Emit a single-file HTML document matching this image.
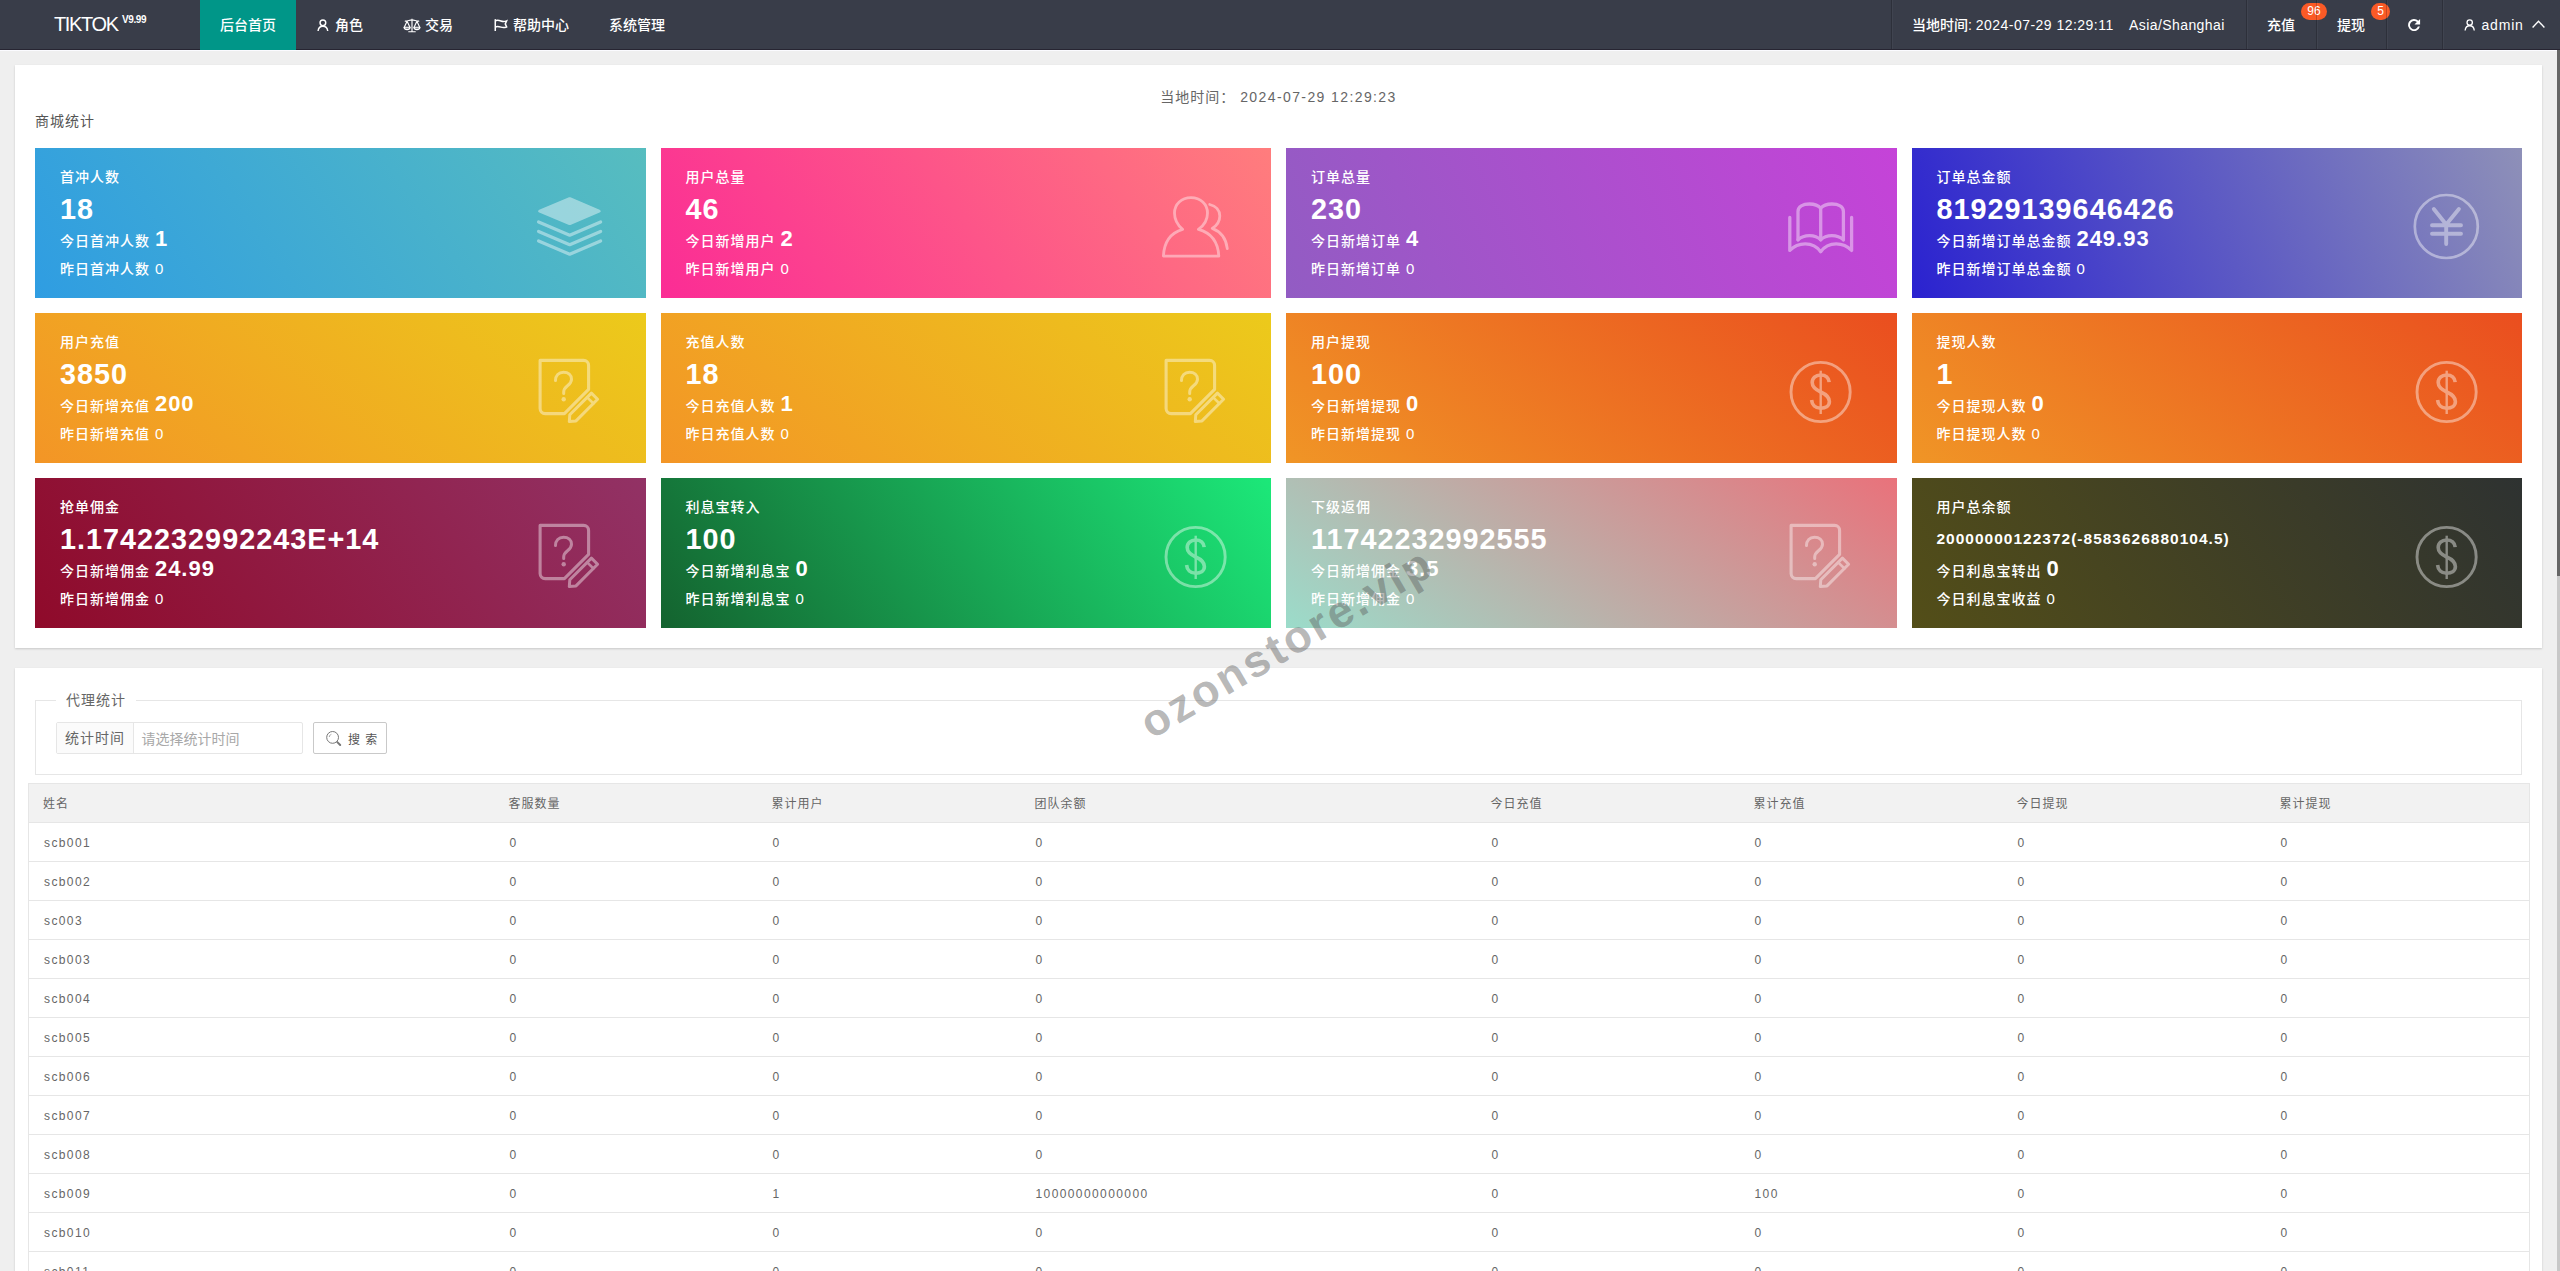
<!DOCTYPE html>
<html lang="zh-CN">
<head>
<meta charset="utf-8">
<title>TIKTOK 后台管理</title>
<style>
*{box-sizing:border-box;margin:0;padding:0}
html,body{width:2560px;height:1271px;overflow:hidden}
body{position:relative;background:#efefef;color:#333;font-size:14px;letter-spacing:1px;
 font-family:"Liberation Sans","Noto Sans CJK SC",sans-serif;}
svg{display:block}
/* ---------- header ---------- */
#hd{position:absolute;left:0;top:0;width:2560px;height:50px;background:#393d49;color:#fff;letter-spacing:0;border-bottom:1px solid #272532;box-shadow:0 1px 0 #fbfbff}
#hd .logo{position:absolute;left:54px;top:0;height:50px;line-height:48px;font-size:20px;font-weight:300;white-space:nowrap;letter-spacing:-1.35px}
#hd .logo sup{position:absolute;left:68px;top:-4px;font-size:10px;font-weight:700;letter-spacing:-.4px}
#hd .nav{position:absolute;top:0;height:50px;line-height:50px;font-size:14px;white-space:nowrap;font-weight:500}
#hd .nav.on{background:#009688}
#hd .nav svg{position:absolute}
#hd .sep{position:absolute;top:0;width:1px;height:49px;background:rgba(0,0,0,.2);box-shadow:1px 0 0 rgba(255,255,255,.04)}
#hd .badge{position:absolute;top:3px;height:17px;line-height:17px;border-radius:9px;background:#fa5a26;color:#fff;font-size:12px;text-align:center}
/* ---------- panels ---------- */
.panel{position:absolute;left:15px;width:2527px;background:#fff;box-shadow:0 1px 2px rgba(0,0,0,.16)}
#p1{top:65px;height:583px}
#p2{top:668px;height:640px}
.ltime{position:absolute;left:0;top:19px;width:100%;text-align:center;font-size:14px;line-height:26px;color:#666;white-space:nowrap}
.stitle{position:absolute;left:20px;top:43px;font-size:14px;line-height:26px;color:#555}
/* ---------- cards ---------- */
.card{position:absolute;width:610.5px;height:150px;color:#fff;padding:15px 25px;overflow:hidden;white-space:nowrap}
.card div{height:28px;line-height:28px;font-size:14px;font-weight:500}
.card div.big{height:36px;line-height:36px;font-size:28.8px;font-weight:700}
.card div.mid{font-size:15.5px;height:36px;line-height:36px;font-weight:700}
.card b{font-size:22px;font-weight:700;line-height:1}
.card i{font-style:normal;font-size:15px;line-height:1}
.card svg{position:absolute}
.c1{left:20px}.c2{left:645.5px}.c3{left:1271px}.c4{left:1896.5px}
.r1{top:83px}.r2{top:248px}.r3{top:413px}
.g1{background:linear-gradient(-125deg,#57bdbf,#2f9de2)}
.g2{background:linear-gradient(-125deg,#ff7d7d,#fb2c95)}
.g3{background:linear-gradient(-113deg,#c543d8,#925cc3)}
.g4{background:linear-gradient(-113deg,#8e90b8,#2a22d0)}
.g5{background:linear-gradient(-141deg,#ecca1b,#f39526)}
.g6{background:linear-gradient(-141deg,#ea4e1f,#f09526)}
.g7{background:linear-gradient(-125deg,#923265,#8f0a2a)}
.g8{background:linear-gradient(-125deg,#1ce879,#14632f)}
.g9{background:linear-gradient(-146deg,#e9727b,#9bdcca)}
.g10{background:linear-gradient(-125deg,#2e3231,#534e18)}
/* ---------- fieldset / search ---------- */
.fs{position:absolute;left:20px;top:32px;width:2487px;height:75px;border:1px solid #e6e6e6}
.fs .lg{position:absolute;left:20px;top:-14px;height:26px;line-height:26px;padding:0 10px;background:#fff;font-size:14px;color:#666}
.grp{position:absolute;left:20px;top:21px;width:247px;height:32px;border:1px solid #e6e6e6;border-radius:2px;background:#fff}
.grp .lb{position:absolute;left:0;top:0;width:77px;height:30px;line-height:30px;background:#fbfbfb;border-right:1px solid #e6e6e6;text-align:center;color:#666;font-size:14px}
.grp .ph{position:absolute;left:84.500px;top:0;height:30px;line-height:32px;color:#a8a8a8;font-size:14px;letter-spacing:0;font-weight:400}
.btn{position:absolute;left:277px;top:21px;width:74px;height:32px;border:1px solid #c9c9c9;border-radius:2px;background:#fff;color:#555;font-size:12px;line-height:30px;white-space:nowrap}
.btn span{position:absolute;left:34px;top:1.500px}
.btn svg{position:absolute;left:11px;top:6px}
/* ---------- table ---------- */
table{position:absolute;left:13px;top:115px;width:2501px;border-collapse:collapse;table-layout:fixed;border:1px solid #e6e6e6;font-size:12px;color:#666}
th,td{height:39px;padding:2px 14px 0 14px;text-align:left;font-weight:400;border-bottom:1px solid #e6e6e6;white-space:nowrap;line-height:36px}
td{letter-spacing:1.4px;padding-left:15px}
th{background:#f2f2f2}
/* ---------- misc ---------- */
#wm{position:absolute;left:1287px;top:643px;width:0;height:0}
#wm span{position:absolute;left:-200px;top:-30px;width:400px;height:60px;line-height:60px;text-align:center;font-size:45px;font-weight:700;letter-spacing:3px;color:rgba(95,95,95,.46);transform:rotate(-30.4deg);white-space:nowrap}
#sb{position:absolute;right:0;top:50px;width:3px;height:1221px;background:#c8c8c8}
#sb i{position:absolute;left:0;top:0;width:3px;height:526px;background:#666}
</style>
</head>
<body>
<div id="hd">
 <div class="logo">TIKTOK<sup>V9.99</sup></div>
 <div class="nav on" style="left:200px;width:96px;text-align:center">后台首页</div>
 <div class="nav" style="left:296px;width:87px">
  <svg style="left:21.300px;top:18.600px" width="11.800" height="12.600" viewBox="0 0 14 15" fill="none" stroke="#fff" stroke-width="1.700"><circle cx="7" cy="4.600" r="3.400"/><path d="M1.200 14.600c.4-4 2.600-6 5.800-6s5.400 2 5.800 6"/></svg>
  <span style="position:absolute;left:39px">角色</span></div>
 <div class="nav" style="left:383px;width:91px">
  <svg style="left:19.500px;top:18px" width="18" height="15" viewBox="0 0 18 15" fill="none" stroke="#fff" stroke-width="1.150" stroke-linejoin="round"><path d="M9 .8V13.400M5.300 13.700h7.400M1.800 3.100c2.400.5 4.800-1.300 7.200-1.300s4.800 1.800 7.200 1.300M4.100 3.300 1.400 9M4.100 3.300 6.800 9M13.900 3.300 11.200 9M13.900 3.300 16.600 9"/><path d="M.9 9.200h6.400c-.3 1.500-1.600 2.400-3.200 2.400S1.200 10.700.9 9.200zM10.700 9.200h6.400c-.3 1.500-1.600 2.400-3.200 2.400s-2.900-.9-3.200-2.400z" fill="#fff" fill-opacity=".35"/></svg>
  <span style="position:absolute;left:42px">交易</span></div>
 <div class="nav" style="left:474px;width:116px">
  <svg style="left:20px;top:18.800px" width="14.500" height="12.500" viewBox="0 0 16 14" fill="none" stroke="#fff" stroke-width="1.700"><path d="M1.300.3v13.400M1.300 2c2.300-1 4.300-.5 6.300.2s4 .8 6.400-.1l-1.500 3.400 1.500 3.400c-2.400.9-4.400.9-6.400.2s-4-1.200-6.300-.2"/></svg>
  <span style="position:absolute;left:39px">帮助中心</span></div>
 <div class="nav" style="left:589px;width:96px;text-align:center">系统管理</div>

 <div class="sep" style="left:1891px"></div>
 <div class="nav" style="left:1912px">当地时间: <span style="letter-spacing:.47px">2024-07-29 12:29:11</span></div>
 <div class="nav" style="left:2129px;letter-spacing:.42px">Asia/Shanghai</div>
 <div class="sep" style="left:2246px"></div>
 <div class="nav" style="left:2267px">充值</div>
 <div class="badge" style="left:2301px;width:26px">96</div>
 <div class="sep" style="left:2316px"></div>
 <div class="nav" style="left:2337px">提现</div>
 <div class="badge" style="left:2371px;width:19px">5</div>
 <div class="sep" style="left:2386px"></div>
 <svg style="position:absolute;left:2407px;top:18px" width="14" height="14" viewBox="0 0 14 14"><path d="M11.300 2.700A6 6 0 1 0 12.900 8.500h-2A4.100 4.100 0 1 1 9.900 4.100L7.500 6.500H13.100V.9z" fill="#fff"/></svg>
 <div class="sep" style="left:2442px"></div>
 <div class="nav" style="left:2463px;width:90px">
  <svg style="left:1px;top:19.300px" width="11.400" height="11.800" viewBox="0 0 14 15" fill="none" stroke="#fff" stroke-width="1.700"><circle cx="7" cy="4.600" r="3.400"/><path d="M1.200 14.600c.4-4 2.600-6 5.800-6s5.400 2 5.800 6"/></svg>
  <span style="position:absolute;left:18.500px;letter-spacing:.8px">admin</span>
  <svg style="left:69px;top:20px" width="13" height="8" viewBox="0 0 13 8" fill="none" stroke="#fff" stroke-width="1.400"><path d="M.6 7.400 6.500 1.300l5.900 6.100"/></svg>
 </div>
</div>

<div class="panel" id="p1">
 <div class="ltime">当地时间： <span style="letter-spacing:1.4px">2024-07-29 12:29:23</span></div>
 <div class="stitle">商城统计</div>
 <div class="card c1 r1 g1"><div>首冲人数</div><div class="big">18</div><div>今日首冲人数 <b>1</b></div><div>昨日首冲人数 <i>0</i></div><svg style="left:501px;top:45px;overflow:visible;opacity:.42" width="67" height="67" viewBox="0 0 67 67" ><path d="M32.400 4.500c.8-.4 1.800-.4 2.600 0l28.600 12.200c1.500.7 1.500 2.200 0 2.900L35 31.700c-.8.400-1.800.4-2.600 0L3.200 19.600c-1.500-.7-1.500-2.200 0-2.900z" fill="#fff"/><path d="M2.600 28.900 33.700 42.200 64.600 28.900M2.600 38.400 33.700 51.700 64.600 38.400M2.600 47.900 33.700 61.200 64.600 47.900" fill="none" stroke="#fff" stroke-width="3.300" stroke-linecap="round" stroke-linejoin="round"/></svg></div>
 <div class="card c2 r1 g2"><div>用户总量</div><div class="big">46</div><div>今日新增用户 <b>2</b></div><div>昨日新增用户 <i>0</i></div><svg style="left:501px;top:45px;overflow:visible;opacity:.42" width="67" height="67" viewBox="0 0 67 67" ><g fill="none" stroke="#fff" stroke-linecap="round" stroke-linejoin="round" stroke-width="2.800"><path d="M29 4.600C38.500 4.600 45.500 11 45.500 20c0 7-3.500 12.500-9.100 16.400C48 39.500 56 48 56.800 63.100H1.400C2.200 48 10 39.500 20.600 36.400 16 32.500 12.500 27 12.500 20 12.500 11 19.500 4.600 29 4.600z"/><path d="M47.700 11.500c6.300 1.500 10.100 6 10.100 11.500 0 5-2.800 9.500-7.600 12.400 8.300 3.100 13.800 9.600 15.100 20.200"/></g></svg></div>
 <div class="card c3 r1 g3"><div>订单总量</div><div class="big">230</div><div>今日新增订单 <b>4</b></div><div>昨日新增订单 <i>0</i></div><svg style="left:501px;top:45px;overflow:visible;opacity:.42" width="67" height="67" viewBox="0 0 67 67" ><g fill="none" stroke="#fff" stroke-linecap="round" stroke-linejoin="round" stroke-width="3.300"><path d="M11 46.800V18.400C11 13.500 16 11 22.500 11c5 0 9 1.600 11.200 4.200C35.900 12.600 39.900 11 44.900 11c6.500 0 11.500 2.500 11.500 7.400v28.400M33.700 15.200v31.600"/><path d="M11 46.800c3-2.800 7-4.200 11.500-4.200s8.500 1.400 11.200 4.200c2.700-2.800 6.700-4.200 11.200-4.200s8.500 1.400 11.500 4.200"/><path d="M2.800 24.400v33c4.200-4.400 9.200-6.600 15.400-6.600 6.300 0 11.800 2.700 15.500 7.900 3.700-5.200 9.200-7.900 15.500-7.900 6.200 0 11.200 2.200 15.400 6.600v-33"/></g></svg></div>
 <div class="card c4 r1 g4"><div>订单总金额</div><div class="big">81929139646426</div><div>今日新增订单总金额 <b>249.93</b></div><div>昨日新增订单总金额 <i>0</i></div><svg style="left:501px;top:45px;overflow:visible;opacity:.42" width="67" height="67" viewBox="0 0 67 67" ><g fill="none" stroke="#fff" stroke-linecap="round" stroke-linejoin="round"><circle cx="33.300" cy="33.500" r="31.500" stroke-width="2.700"/><path d="M20.800 16 33.200 31.500 45.900 16M33.200 31.500V51M19 32.200h29M19 40.800h29" stroke-width="3.900"/></g></svg></div>
 <div class="card c1 r2 g5"><div>用户充值</div><div class="big">3850</div><div>今日新增充值 <b>200</b></div><div>昨日新增充值 <i>0</i></div><svg style="left:501px;top:45px;overflow:visible;opacity:.42" width="67" height="67" viewBox="0 0 67 67" ><g fill="none" stroke="#fff" stroke-linecap="round" stroke-linejoin="round" stroke-width="3.100"><path d="M4.100 2.400H47.600a5 5 0 0 1 5 5V31.400L28.400 55.600H9.100a5 5 0 0 1-5-5z"/><path d="M19.500 22.500c0-5 3.200-8.300 8-8.300s8 3 8 7c0 3.200-1.700 4.800-4 6.600-2.500 2-3.800 3.300-3.800 6.200v1.500" stroke-width="3"/><circle cx="27.700" cy="41.200" r="2.200" fill="#fff" stroke="none"/><path d="M55.400 35.100 61.600 41.300 40 62.900 33.300 63.600 33.800 56.700z" stroke-width="3"/><path d="M51.200 39.300 57.400 45.500" stroke-width="2.600"/></g></svg></div>
 <div class="card c2 r2 g5"><div>充值人数</div><div class="big">18</div><div>今日充值人数 <b>1</b></div><div>昨日充值人数 <i>0</i></div><svg style="left:501px;top:45px;overflow:visible;opacity:.42" width="67" height="67" viewBox="0 0 67 67" ><g fill="none" stroke="#fff" stroke-linecap="round" stroke-linejoin="round" stroke-width="3.100"><path d="M4.100 2.400H47.600a5 5 0 0 1 5 5V31.400L28.400 55.600H9.100a5 5 0 0 1-5-5z"/><path d="M19.500 22.500c0-5 3.200-8.300 8-8.300s8 3 8 7c0 3.200-1.700 4.800-4 6.600-2.500 2-3.800 3.300-3.800 6.200v1.500" stroke-width="3"/><circle cx="27.700" cy="41.200" r="2.200" fill="#fff" stroke="none"/><path d="M55.400 35.100 61.600 41.300 40 62.900 33.300 63.600 33.800 56.700z" stroke-width="3"/><path d="M51.200 39.300 57.400 45.500" stroke-width="2.600"/></g></svg></div>
 <div class="card c3 r2 g6"><div>用户提现</div><div class="big">100</div><div>今日新增提现 <b>0</b></div><div>昨日新增提现 <i>0</i></div><svg style="left:501px;top:45px;overflow:visible;opacity:.42" width="67" height="67" viewBox="0 0 67 67" ><g fill="none" stroke="#fff"  stroke-linejoin="round" stroke-linecap="butt"><circle cx="33.600" cy="34" r="29.600" stroke-width="2.900"/><path d="M42.200 24.200C41.800 19.800 38.600 17 33.700 17c-5.100 0-8.500 3-8.500 7.600 0 4.900 3.600 7.200 8.500 9.400 5.100 2.200 8.700 4.600 8.700 9.600 0 4.200-3.600 6.700-8.700 6.700-5.300 0-8.700-3.300-9.100-8.300" stroke-width="3.600"/><path d="M33.700 12.700V56" stroke-width="2.400"/></g></svg></div>
 <div class="card c4 r2 g6"><div>提现人数</div><div class="big">1</div><div>今日提现人数 <b>0</b></div><div>昨日提现人数 <i>0</i></div><svg style="left:501px;top:45px;overflow:visible;opacity:.42" width="67" height="67" viewBox="0 0 67 67" ><g fill="none" stroke="#fff"  stroke-linejoin="round" stroke-linecap="butt"><circle cx="33.600" cy="34" r="29.600" stroke-width="2.900"/><path d="M42.200 24.200C41.800 19.800 38.600 17 33.700 17c-5.100 0-8.500 3-8.500 7.600 0 4.900 3.600 7.200 8.500 9.400 5.100 2.200 8.700 4.600 8.700 9.600 0 4.200-3.600 6.700-8.700 6.700-5.300 0-8.700-3.300-9.100-8.300" stroke-width="3.600"/><path d="M33.700 12.700V56" stroke-width="2.400"/></g></svg></div>
 <div class="card c1 r3 g7"><div>抢单佣金</div><div class="big">1.1742232992243E+14</div><div>今日新增佣金 <b>24.99</b></div><div>昨日新增佣金 <i>0</i></div><svg style="left:501px;top:45px;overflow:visible;opacity:.42" width="67" height="67" viewBox="0 0 67 67" ><g fill="none" stroke="#fff" stroke-linecap="round" stroke-linejoin="round" stroke-width="3.100"><path d="M4.100 2.400H47.600a5 5 0 0 1 5 5V31.400L28.400 55.600H9.100a5 5 0 0 1-5-5z"/><path d="M19.500 22.500c0-5 3.200-8.300 8-8.300s8 3 8 7c0 3.200-1.700 4.800-4 6.600-2.500 2-3.800 3.300-3.800 6.200v1.500" stroke-width="3"/><circle cx="27.700" cy="41.200" r="2.200" fill="#fff" stroke="none"/><path d="M55.400 35.100 61.600 41.300 40 62.900 33.300 63.600 33.800 56.700z" stroke-width="3"/><path d="M51.200 39.300 57.400 45.500" stroke-width="2.600"/></g></svg></div>
 <div class="card c2 r3 g8"><div>利息宝转入</div><div class="big">100</div><div>今日新增利息宝 <b>0</b></div><div>昨日新增利息宝 <i>0</i></div><svg style="left:501px;top:45px;overflow:visible;opacity:.42" width="67" height="67" viewBox="0 0 67 67" ><g fill="none" stroke="#fff"  stroke-linejoin="round" stroke-linecap="butt"><circle cx="33.600" cy="34" r="29.600" stroke-width="2.900"/><path d="M42.200 24.200C41.800 19.800 38.600 17 33.700 17c-5.100 0-8.500 3-8.500 7.600 0 4.900 3.600 7.200 8.500 9.400 5.100 2.200 8.700 4.600 8.700 9.600 0 4.200-3.600 6.700-8.700 6.700-5.300 0-8.700-3.300-9.100-8.300" stroke-width="3.600"/><path d="M33.700 12.700V56" stroke-width="2.400"/></g></svg></div>
 <div class="card c3 r3 g9"><div>下级返佣</div><div class="big">11742232992555</div><div>今日新增佣金 <b>3.5</b></div><div>昨日新增佣金 <i>0</i></div><svg style="left:501px;top:45px;overflow:visible;opacity:.42" width="67" height="67" viewBox="0 0 67 67" ><g fill="none" stroke="#fff" stroke-linecap="round" stroke-linejoin="round" stroke-width="3.100"><path d="M4.100 2.400H47.600a5 5 0 0 1 5 5V31.400L28.400 55.600H9.100a5 5 0 0 1-5-5z"/><path d="M19.500 22.500c0-5 3.200-8.300 8-8.300s8 3 8 7c0 3.200-1.700 4.800-4 6.600-2.500 2-3.800 3.300-3.800 6.200v1.500" stroke-width="3"/><circle cx="27.700" cy="41.200" r="2.200" fill="#fff" stroke="none"/><path d="M55.400 35.100 61.600 41.300 40 62.900 33.300 63.600 33.800 56.700z" stroke-width="3"/><path d="M51.200 39.300 57.400 45.500" stroke-width="2.600"/></g></svg></div>
 <div class="card c4 r3 g10"><div>用户总余额</div><div class="mid">20000000122372(-8583626880104.5)</div><div>今日利息宝转出 <b>0</b></div><div>今日利息宝收益 <i>0</i></div><svg style="left:501px;top:45px;overflow:visible;opacity:.42" width="67" height="67" viewBox="0 0 67 67" ><g fill="none" stroke="#fff"  stroke-linejoin="round" stroke-linecap="butt"><circle cx="33.600" cy="34" r="29.600" stroke-width="2.900"/><path d="M42.200 24.200C41.800 19.800 38.600 17 33.700 17c-5.100 0-8.500 3-8.500 7.600 0 4.900 3.600 7.200 8.500 9.400 5.100 2.200 8.700 4.600 8.700 9.600 0 4.200-3.600 6.700-8.700 6.700-5.300 0-8.700-3.300-9.100-8.300" stroke-width="3.600"/><path d="M33.700 12.700V56" stroke-width="2.400"/></g></svg></div>
</div>
<div class="panel" id="p2">
 <div class="fs"><div class="lg">代理统计</div>
  <div class="grp"><div class="lb">统计时间</div><div class="ph">请选择统计时间</div></div>
  <div class="btn"><svg width="19" height="19" viewBox="0 0 19 19" fill="none" stroke="#777" stroke-width="1"><circle cx="7.600" cy="8.400" r="5.900"/><path d="M4.300 8c.1-1.300.9-2.300 2-2.700" stroke-width=".7"/><path d="M12.300 13.100l2.900 2.900" stroke-width="2" stroke-linecap="round"/></svg><span>搜 索</span></div>
 </div>
 <table><colgroup><col style="width:466px"><col style="width:263px"><col style="width:263px"><col style="width:456px"><col style="width:263px"><col style="width:263px"><col style="width:263px"><col style="width:264px"></colgroup>
  <thead><tr><th>姓名</th><th>客服数量</th><th>累计用户</th><th>团队余额</th><th>今日充值</th><th>累计充值</th><th>今日提现</th><th>累计提现</th></tr></thead>
  <tbody>
   <tr><td>scb001</td><td>0</td><td>0</td><td>0</td><td>0</td><td>0</td><td>0</td><td>0</td></tr>
   <tr><td>scb002</td><td>0</td><td>0</td><td>0</td><td>0</td><td>0</td><td>0</td><td>0</td></tr>
   <tr><td>sc003</td><td>0</td><td>0</td><td>0</td><td>0</td><td>0</td><td>0</td><td>0</td></tr>
   <tr><td>scb003</td><td>0</td><td>0</td><td>0</td><td>0</td><td>0</td><td>0</td><td>0</td></tr>
   <tr><td>scb004</td><td>0</td><td>0</td><td>0</td><td>0</td><td>0</td><td>0</td><td>0</td></tr>
   <tr><td>scb005</td><td>0</td><td>0</td><td>0</td><td>0</td><td>0</td><td>0</td><td>0</td></tr>
   <tr><td>scb006</td><td>0</td><td>0</td><td>0</td><td>0</td><td>0</td><td>0</td><td>0</td></tr>
   <tr><td>scb007</td><td>0</td><td>0</td><td>0</td><td>0</td><td>0</td><td>0</td><td>0</td></tr>
   <tr><td>scb008</td><td>0</td><td>0</td><td>0</td><td>0</td><td>0</td><td>0</td><td>0</td></tr>
   <tr><td>scb009</td><td>0</td><td>1</td><td>10000000000000</td><td>0</td><td>100</td><td>0</td><td>0</td></tr>
   <tr><td>scb010</td><td>0</td><td>0</td><td>0</td><td>0</td><td>0</td><td>0</td><td>0</td></tr>
   <tr><td>scb011</td><td>0</td><td>0</td><td>0</td><td>0</td><td>0</td><td>0</td><td>0</td></tr>
   <tr><td>scb012</td><td>0</td><td>0</td><td>0</td><td>0</td><td>0</td><td>0</td><td>0</td></tr>
  </tbody></table>
</div>
<div id="wm"><span>ozonstore.vip</span></div>
<div id="sb"><i></i></div>
</body>
</html>
